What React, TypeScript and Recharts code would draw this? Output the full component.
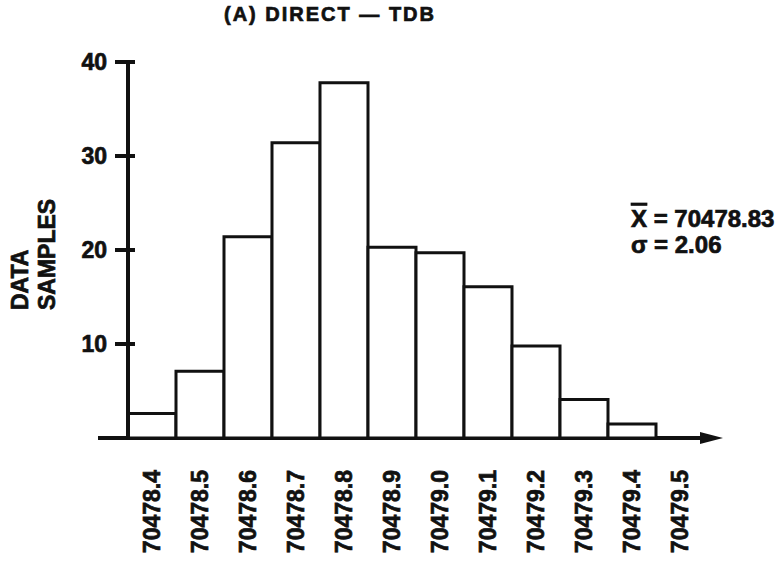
import React from 'react';
import { Bar, BarChart, Customized, XAxis, YAxis } from 'recharts';

// bin labels along the x axis (the last one closes the range, no bar)
const bins = [
  '70478.4', '70478.5', '70478.6', '70478.7', '70478.8', '70478.9',
  '70479.0', '70479.1', '70479.2', '70479.3', '70479.4', '70479.5',
];
const samples = [2.6, 7.1, 21.4, 31.4, 37.8, 20.3, 19.7, 16.1, 9.8, 4.1, 1.5, null];
const yTicks = [10, 20, 30, 40];
const meanText = '70478.83';
const sigmaText = '2.06';

const FONT = '"Liberation Sans", Arial, Helvetica, sans-serif';
const INK = '#111';
// the scanned lettering is heavier than a plain bold face
const heavy = { stroke: INK, strokeWidth: 0.7 };

const W = 784;
const H = 565;
const margin = { top: 62, right: 80, bottom: 17, left: 68 };
const Y_AXIS_W = 60;
const X_AXIS_H = 110;
const baseY = H - margin.bottom - X_AXIS_H;

const YTick = ({ x, y, payload }: any) => (
  <g>
    <line x1={x - 13} x2={x + 7} y1={y} y2={y} stroke={INK} strokeWidth={4} />
    <text
      x={x - 21}
      y={y}
      textAnchor="end"
      dominantBaseline="central"
      fontFamily={FONT}
      fontWeight="bold"
      fontSize={23}
      fill={INK}
      {...heavy}
    >
      {payload.value}
    </text>
  </g>
);

const XTick = ({ x, y, payload }: any) => (
  <text
    x={x}
    y={y + 32}
    transform={`rotate(-90, ${x}, ${y + 32})`}
    textAnchor="end"
    dominantBaseline="central"
    fontFamily={FONT}
    fontWeight="bold"
    fontSize={23}
    fill={INK}
    {...heavy}
  >
    {payload.value}
  </text>
);

const Decorations = () => (
  <g>
    {/* baseline with arrow */}
    <line x1={98} x2={706} y1={baseY} y2={baseY} stroke={INK} strokeWidth={4} />
    <polygon points={`700,${baseY - 6} 723,${baseY} 700,${baseY + 6}`} fill={INK} />

    {/* title */}
    <text
      x={330}
      y={21}
      textAnchor="middle"
      fontFamily={FONT}
      fontWeight="bold"
      fontSize={20}
      letterSpacing={2}
      fill={INK}
      {...heavy}
    >
      (A) DIRECT — TDB
    </text>

    {/* y axis label */}
    <g fontFamily={FONT} fontWeight="bold" fontSize={23} fill={INK} {...heavy}>
      <text x={28} y={310} transform="rotate(-90, 28, 310)" textAnchor="start">
        DATA
      </text>
      <text x={55} y={310} transform="rotate(-90, 55, 310)" textAnchor="start">
        SAMPLES
      </text>
    </g>

    {/* statistics */}
    <g fontFamily={FONT} fontWeight="bold" fontSize={24} fill={INK} {...heavy}>
      <text x={631} y={227}>
        <tspan style={{ textDecoration: 'overline' }}>X</tspan>
        {` = ${meanText}`}
      </text>
      <text x={631} y={253}>
        {`σ = ${sigmaText}`}
      </text>
    </g>
  </g>
);

export default function App() {
  const data = bins.map((bin, i) => ({ bin, samples: samples[i] }));

  return (
    <div style={{ position: 'absolute', left: 0, top: 0, background: '#fff' }}>
      <BarChart width={W} height={H} data={data} margin={margin} barCategoryGap={0}>
        <XAxis
          dataKey="bin"
          axisLine={false}
          tickLine={false}
          tickSize={0}
          tickMargin={0}
          height={X_AXIS_H}
          interval={0}
          tick={<XTick />}
        />
        <YAxis
          domain={[0, 40]}
          ticks={yTicks}
          width={Y_AXIS_W}
          axisLine={{ stroke: INK, strokeWidth: 4 }}
          tickLine={false}
          tickSize={0}
          tickMargin={0}
          tick={<YTick />}
        />
        <Bar
          dataKey="samples"
          fill="#fff"
          stroke={INK}
          strokeWidth={3}
          isAnimationActive={false}
        />
        <Customized component={Decorations} />
      </BarChart>
    </div>
  );
}
